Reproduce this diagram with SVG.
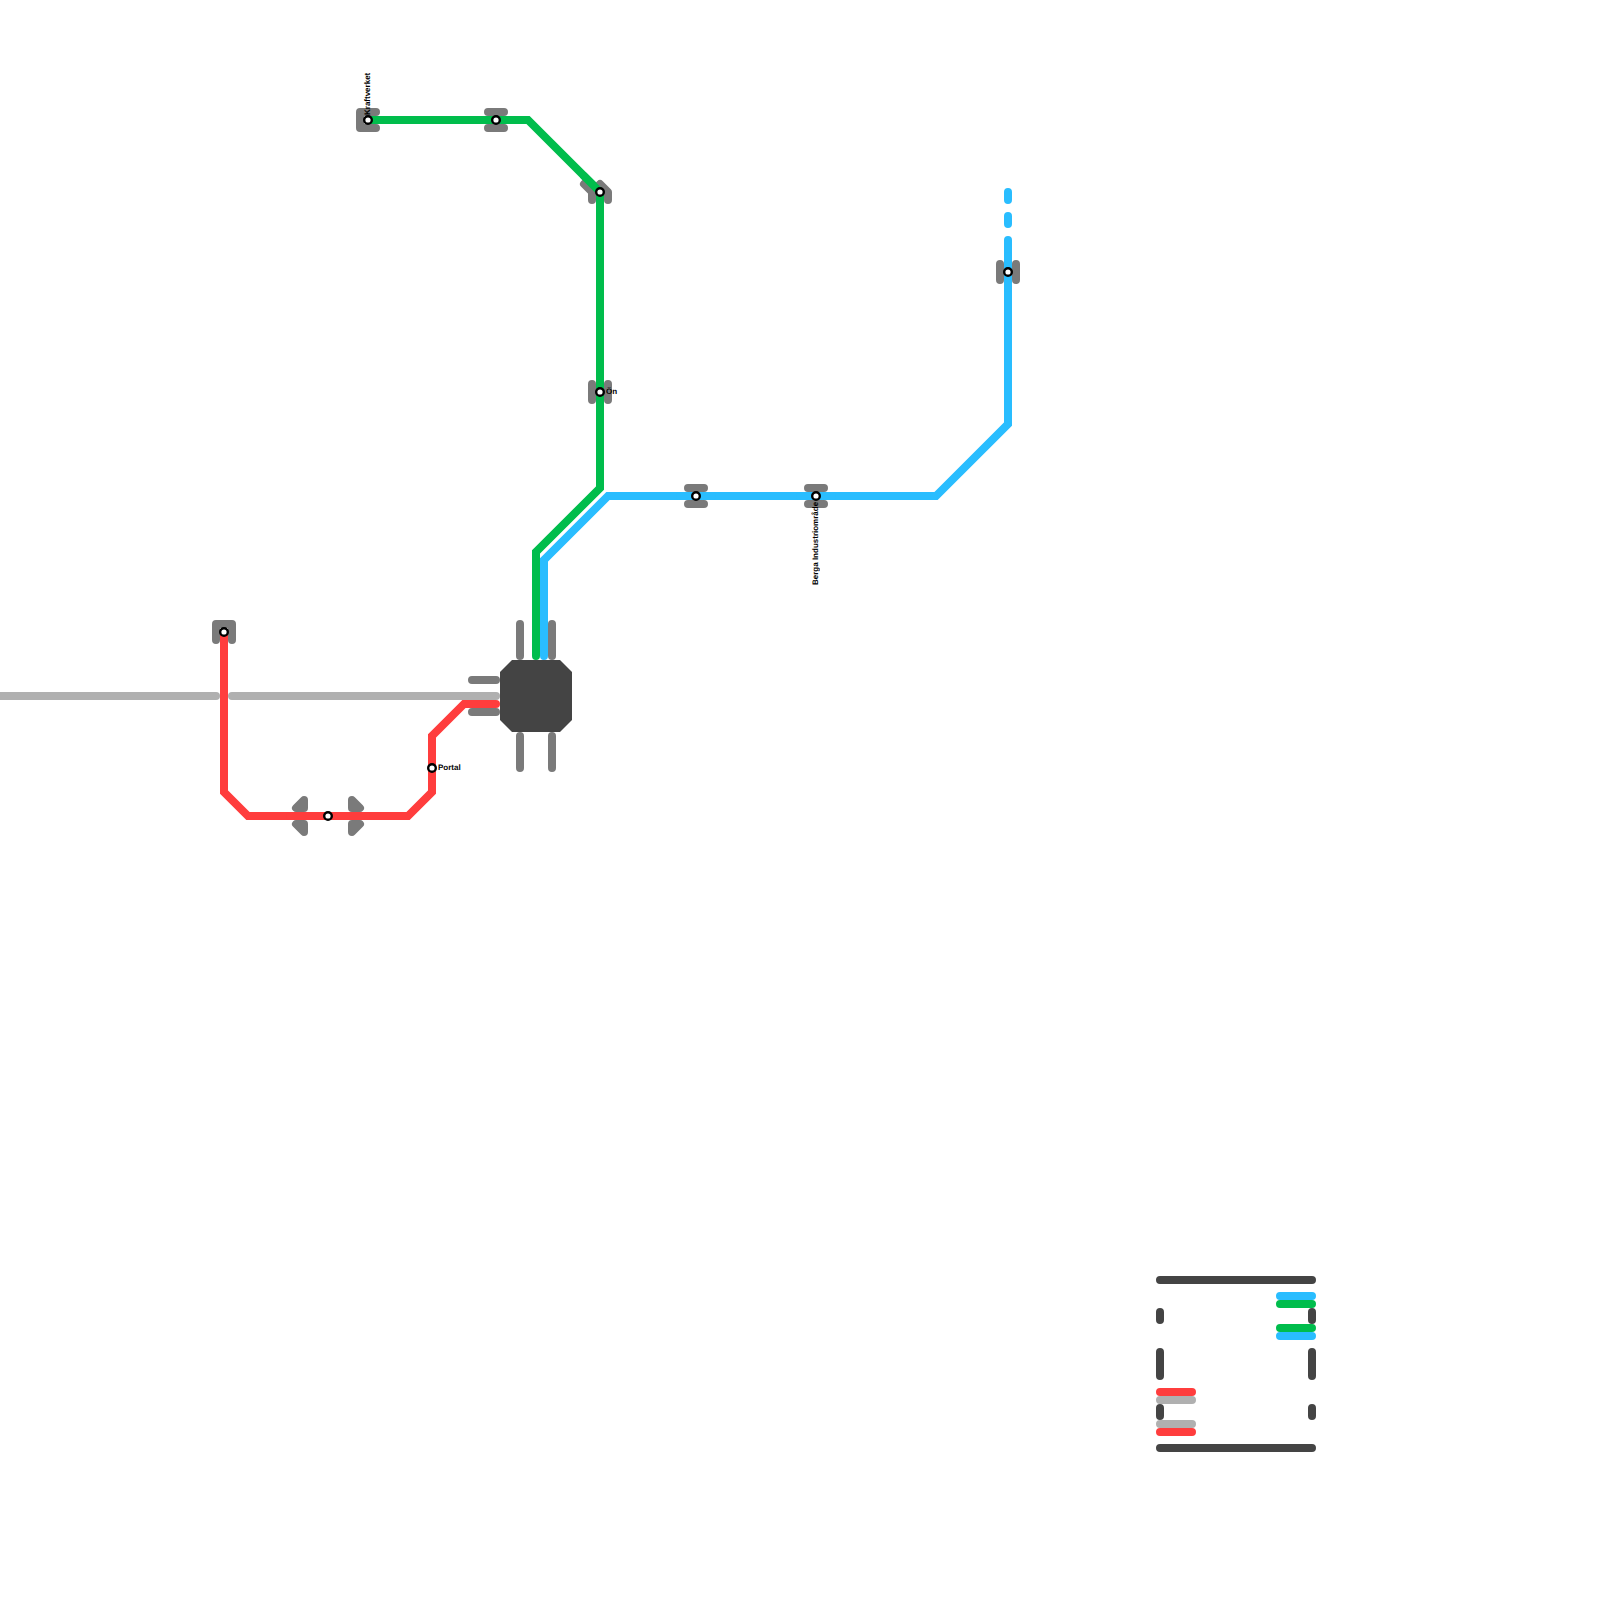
<svg xmlns="http://www.w3.org/2000/svg" width="1600" height="1600" viewBox="0 0 1600 1600">
<style>
.l{fill:none;stroke-width:8;stroke-linecap:round;stroke-linejoin:miter}
.g{fill:#7a7a7a;stroke:#7a7a7a;stroke-width:8;stroke-linecap:round;stroke-linejoin:round}
.d{fill:none;stroke:#444;stroke-width:8;stroke-linecap:round}
.s{fill:#fff;stroke:#000;stroke-width:2.4}
.t{font-family:"Liberation Sans",Arial,sans-serif;font-size:8px;font-weight:bold;fill:#000;text-rendering:geometricPrecision;opacity:.99}
.red{stroke:#ff3d3d}.grn{stroke:#00bd4c}.blu{stroke:#29bdff}.gry{stroke:#b0b0b0}
</style>
<rect width="1600" height="1600" fill="#fff"/>
<g id="fixtures">
<path class="g" fill="none" d="M520 624V656M552 624V656M520 736V768M552 736V768M472 680H496M472 712H496"/>
</g>
<g id="connectors">
<path class="l gry" d="M-4 696H216M232 696H496"/>
<path class="l red" d="M224 632V792L248 816H408L432 792V736L464 704H496"/>
<path class="l grn" d="M368 120H528L600 192V488L536 552V656"/>
<path class="l blu" d="M1008 192V200M1008 216V224M1008 240V424L936 496H608L544 560V656"/>
</g>
<g id="hub"><polygon points="512,660 560,660 572,672 572,720 560,732 512,732 500,720 500,672" fill="#444"/></g>
<g id="st-kraftverket">
<path class="g" d="M360 112H376M360 128H376M360 112V128"/><path class="l grn" d="M368 120H380"/><circle class="s" cx="368" cy="120" r="3.8"/>
<text class="t" transform="translate(370 115) rotate(-90)">Kraftverket</text>
</g>
<g id="st-b"><path class="g" d="M488 112H504M488 128H504"/><path class="l grn" d="M480 120H512"/><circle class="s" cx="496" cy="120" r="3.8"/></g>
<g id="st-c"><path class="g" d="M584 184L592 192V200M600 184L608 192V200M592 192L600 184"/><path class="l grn" d="M584 176L600 192V210"/><circle class="s" cx="600" cy="192" r="3.8"/></g>
<g id="st-on"><path class="g" d="M592 384V400M608 384V400"/><path class="l grn" d="M600 376V408"/><circle class="s" cx="600" cy="392" r="3.8"/><text class="t" x="606" y="394">Ön</text></g>
<g id="st-e"><path class="g" d="M688 488H704M688 504H704"/><path class="l blu" d="M680 496H712"/><circle class="s" cx="696" cy="496" r="3.8"/></g>
<g id="st-berga"><path class="g" d="M808 488H824M808 504H824"/><path class="l blu" d="M800 496H832"/><circle class="s" cx="816" cy="496" r="3.8"/><text class="t" transform="translate(818 585) rotate(-90)">Berga Industriområde</text></g>
<g id="st-g"><path class="g" d="M1000 264V280M1016 264V280"/><path class="l blu" d="M1008 256V288"/><circle class="s" cx="1008" cy="272" r="3.8"/></g>
<g id="st-h"><path class="g" d="M216 624H232M216 624V640M232 624V640"/><path class="l red" d="M224 632V650"/><circle class="s" cx="224" cy="632" r="3.8"/></g>
<g id="st-i"><path class="g" d="M304 800L296 808H304ZM304 832L296 824H304ZM352 800L360 808H352ZM352 832L360 824H352Z"/><path class="l red" d="M290 816H366"/><circle class="s" cx="328" cy="816" r="3.8"/></g>
<g id="st-portal"><circle class="s" cx="432" cy="768" r="3.8"/><text class="t" x="438" y="770">Portal</text></g>
<g id="legend">
<path class="d" d="M1160 1280H1312M1160 1448H1312M1160 1312V1320M1160 1352V1376M1160 1408V1416M1312 1312V1320M1312 1352V1376M1312 1408V1416"/>
<path class="l red" d="M1160 1392H1192M1160 1432H1192"/>
<path class="l gry" d="M1160 1400H1192M1160 1424H1192"/>
<path class="l blu" d="M1280 1296H1312M1280 1336H1312"/>
<path class="l grn" d="M1280 1304H1312M1280 1328H1312"/>
</g>
</svg>
